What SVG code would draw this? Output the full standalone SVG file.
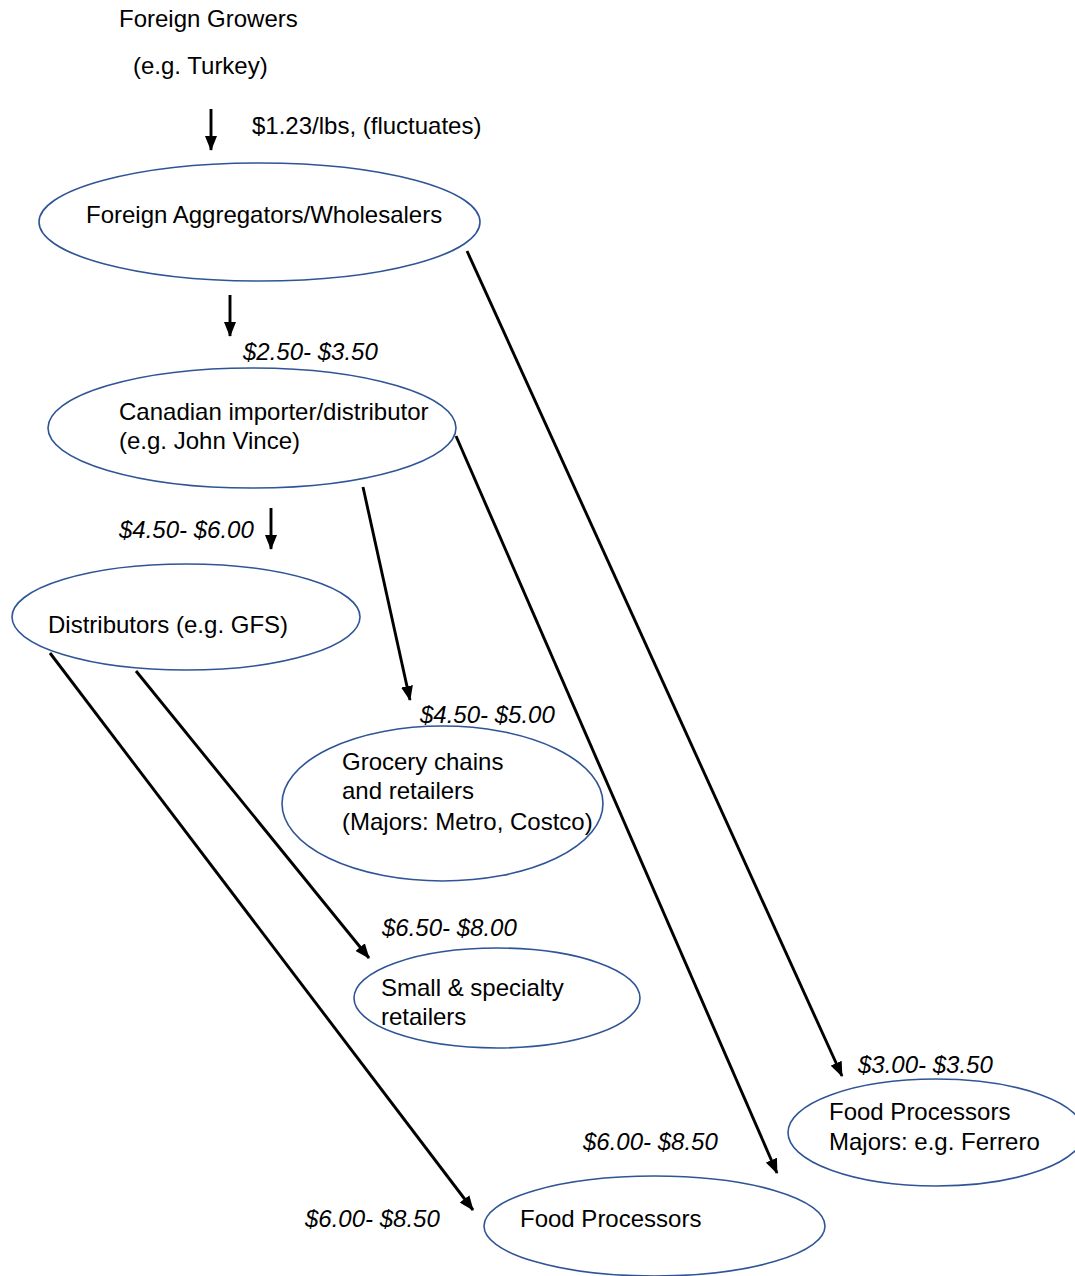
<svg xmlns="http://www.w3.org/2000/svg" width="1075" height="1276" viewBox="0 0 1075 1276">
<style>
text{font-family:"Liberation Sans",Arial,sans-serif;font-size:24px;fill:#000}
.p{font-style:italic}
.n{fill:#fff;stroke:#2F5597;stroke-width:1.6}
.c{stroke:#000;stroke-width:2.9;fill:none;marker-end:url(#ah)}
</style>
<defs>
<marker id="ah" markerUnits="userSpaceOnUse" markerWidth="15" markerHeight="12" refX="14" refY="6" orient="auto">
<path d="M0,0 L15,6 L0,12 z" fill="#000"/>
</marker>
</defs>
<rect width="1075" height="1276" fill="#fff"/>
<g id="growers">
<text x="119" y="27">Foreign Growers</text>
<text x="133" y="74">(e.g. Turkey)</text>
</g>
<g id="aggregators">
<ellipse class="n" cx="259.5" cy="222" rx="220.5" ry="59"/>
<text x="86" y="223">Foreign Aggregators/Wholesalers</text>
</g>
<g id="importer">
<ellipse class="n" cx="252" cy="428" rx="204" ry="60"/>
<text x="119" y="420">Canadian importer/distributor</text>
<text x="119" y="449">(e.g. John Vince)</text>
</g>
<g id="distributors">
<ellipse class="n" cx="186" cy="617" rx="174" ry="53"/>
<text x="48" y="633">Distributors (e.g. GFS)</text>
</g>
<g id="grocery">
<ellipse class="n" cx="442.5" cy="803.5" rx="160.5" ry="77.5"/>
<text x="342" y="770">Grocery chains</text>
<text x="342" y="799">and retailers</text>
<text x="342" y="830">(Majors: Metro, Costco)</text>
</g>
<g id="small">
<ellipse class="n" cx="497" cy="998" rx="143" ry="50"/>
<text x="381" y="996">Small &amp; specialty</text>
<text x="381" y="1025">retailers</text>
</g>
<g id="ferrero">
<ellipse class="n" cx="936" cy="1132.5" rx="148" ry="53.5"/>
<text x="829" y="1120">Food Processors</text>
<text x="829" y="1150">Majors: e.g. Ferrero</text>
</g>
<g id="processors">
<ellipse class="n" cx="654.5" cy="1226" rx="170.5" ry="50"/>
<text x="520" y="1227">Food Processors</text>
</g>
<g id="connectors">
<line class="c" x1="211" y1="109" x2="211" y2="150"/>
<line class="c" x1="230" y1="295" x2="230" y2="336"/>
<line class="c" x1="271" y1="508" x2="271" y2="549"/>
<line class="c" x1="467" y1="251" x2="842" y2="1076"/>
<line class="c" x1="456" y1="436" x2="777" y2="1173"/>
<line class="c" x1="363" y1="487" x2="410" y2="700"/>
<line class="c" x1="136" y1="671" x2="369" y2="958"/>
<line class="c" x1="50" y1="653" x2="473" y2="1210"/>
</g>
<g id="labels">
<text x="252" y="134">$1.23/lbs, (fluctuates)</text>
<text class="p" x="243" y="360">$2.50- $3.50</text>
<text class="p" x="119" y="538">$4.50- $6.00</text>
<text class="p" x="420" y="723">$4.50- $5.00</text>
<text class="p" x="382" y="936">$6.50- $8.00</text>
<text class="p" x="858" y="1073">$3.00- $3.50</text>
<text class="p" x="583" y="1150">$6.00- $8.50</text>
<text class="p" x="305" y="1227">$6.00- $8.50</text>
</g>
</svg>
